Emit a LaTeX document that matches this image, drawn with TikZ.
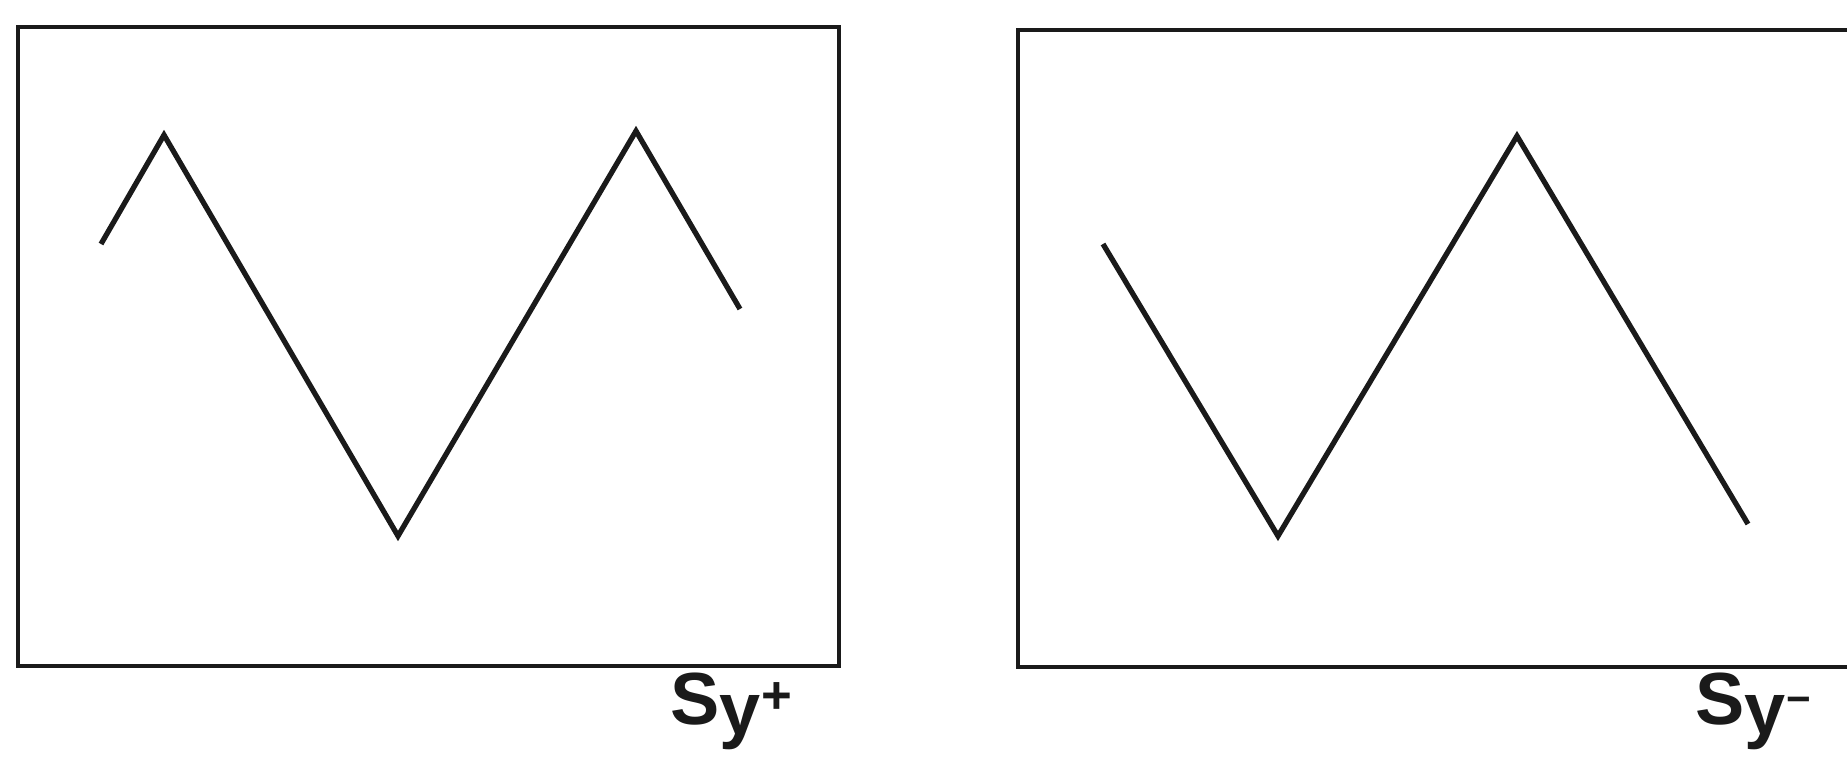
\documentclass[tikz,border=0pt]{standalone}
\usepackage{fontspec}
\setmainfont{Liberation Sans}
\usetikzlibrary{positioning}
\definecolor{ink}{HTML}{1A1A1A}

\begin{document}
\begin{tikzpicture}[x=0.01cm,y=-0.01cm,
  frame/.style={ink,line width=1pt},
  wave/.style={ink,line width=1.5pt,line join=miter},
  lbl/.style={font=\fontsize{21}{24}\selectfont\bfseries,ink,inner sep=0pt,anchor=base west}]
  \useasboundingbox (0,0) rectangle (1847,757);
  % left panel
  \draw[frame] (18,27) rectangle (839,666);
  \draw[wave] (101,244) -- (164,135) -- (398,536) -- (636,131) -- (740,309);
  \node[lbl] (splus) at (670,724) {S\raisebox{-3pt}{y}\raisebox{3pt}{\fontsize{15}{18}\selectfont +}};

  % right panel, cut off at the right edge
  \draw[frame] (1860,30) -- (1018,30) -- (1018,667) -- (1860,667);
  \draw[wave] (1103,244) -- (1278,536) -- (1517,136) -- (1748,524);
  \node[lbl] (sminus) at (1695,724) {S\raisebox{-3pt}{y}\raisebox{3pt}{\fontsize{12}{14}\selectfont \textminus}};
\end{tikzpicture}
\end{document}
